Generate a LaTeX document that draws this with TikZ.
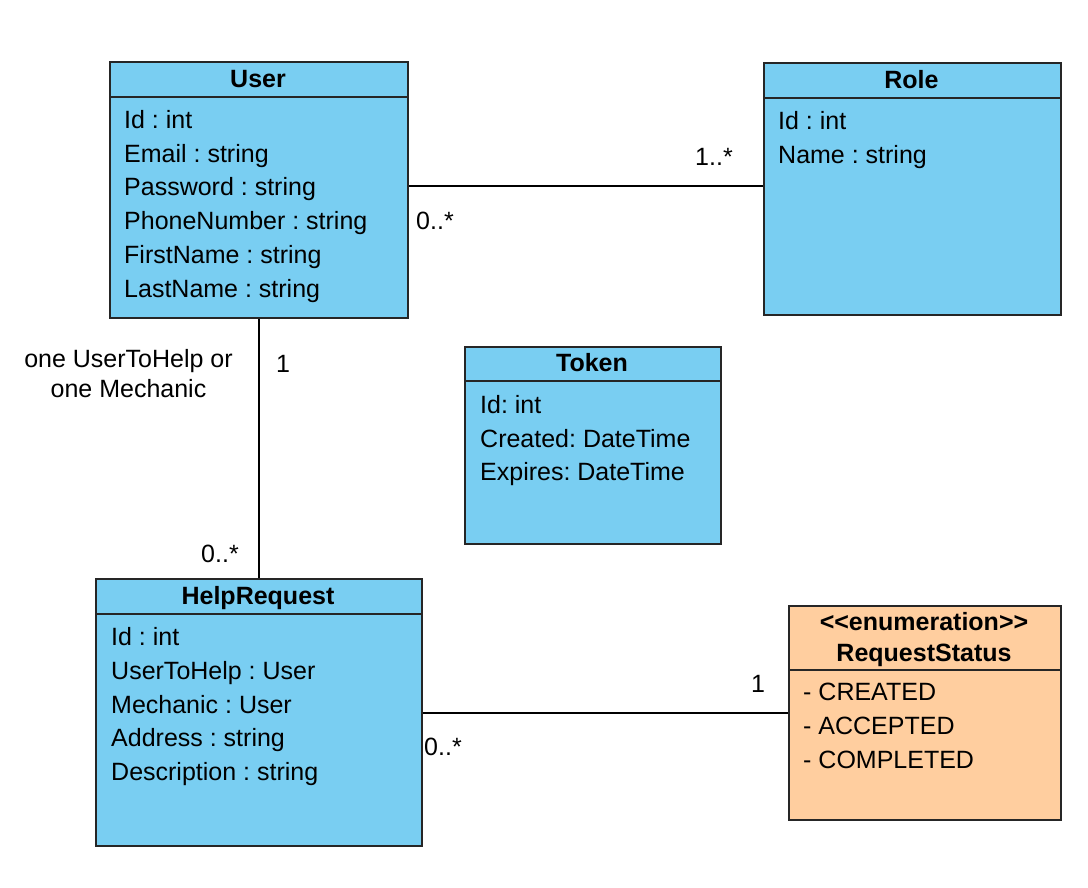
\documentclass[tikz,border=0pt]{standalone}
\usepackage{fontspec}
\setmainfont{Liberation Sans}
\frenchspacing
\definecolor{clsblue}{RGB}{121,206,242}
\definecolor{enumorange}{RGB}{255,206,159}
\tikzset{
  cls/.style={draw=black!85, line width=2pt, fill=clsblue, rectangle, inner sep=0pt, anchor=north west},
  enumcls/.style={cls, fill=enumorange},
  hdr/.style={line width=2pt, draw=black!85},
  title/.style={font=\fontsize{25}{29}\selectfont\bfseries, anchor=base, inner sep=0pt},
  attr/.style={font=\fontsize{25}{29}\selectfont, anchor=base west, inner sep=0pt},
  lbl/.style={font=\fontsize{25}{29}\selectfont, anchor=base, inner sep=0pt},
  assoc/.style={line width=2pt, draw=black}
}
\begin{document}
\begin{tikzpicture}[x=1pt,y=-1pt]
\useasboundingbox (0,0) rectangle (1088,888);

% User
\node[cls, minimum width=298pt, minimum height=256pt] (user) at (109,61) {};
\draw[hdr] (109,97) -- (407,97);
\node[title] (userT) at (258,87.5) {User};
\node[attr] (u1) at (124,128.5) {Id : int};
\node[attr] (u2) at (124,162.2) {Email : string};
\node[attr] (u3) at (124,195.9) {Password : string};
\node[attr] (u4) at (124,229.6) {PhoneNumber : string};
\node[attr] (u5) at (124,263.3) {FirstName : string};
\node[attr] (u6) at (124,297) {LastName : string};

% Role
\node[cls, minimum width=297pt, minimum height=252pt] (role) at (763,62) {};
\draw[hdr] (763,98) -- (1060,98);
\node[title] (roleT) at (911.5,88.5) {Role};
\node[attr] (r1) at (778,129.5) {Id : int};
\node[attr] (r2) at (778,163.2) {Name : string};

% Token
\node[cls, minimum width=256pt, minimum height=197pt] (token) at (464,346) {};
\draw[hdr] (464,381) -- (720,381);
\node[title] (tokenT) at (592,371.5) {Token};
\node[attr] (t1) at (480,413.5) {Id: int};
\node[attr] (t2) at (480,447) {Created: DateTime};
\node[attr] (t3) at (480,480.5) {Expires: DateTime};

% HelpRequest
\node[cls, minimum width=326pt, minimum height=267pt] (hr) at (95,578) {};
\draw[hdr] (95,614) -- (421,614);
\node[title] (hrT) at (258,604.5) {HelpRequest};
\node[attr] (h1) at (111,645.5) {Id : int};
\node[attr] (h2) at (111,679.2) {UserToHelp : User};
\node[attr] (h3) at (111,713) {Mechanic : User};
\node[attr] (h4) at (111,746.8) {Address : string};
\node[attr] (h5) at (111,780.5) {Description : string};

% RequestStatus
\node[enumcls, minimum width=272pt, minimum height=214pt] (rs) at (788,605) {};
\draw[hdr] (788,670) -- (1060,670);
\node[title] (rsT1) at (924,630.5) {<{}<enumeration>{}>};
\node[title] (rsT2) at (924,661.5) {RequestStatus};
\node[attr] (s1) at (803,700.5) {- CREATED};
\node[attr] (s2) at (803,734.5) {- ACCEPTED};
\node[attr] (s3) at (803,768.5) {- COMPLETED};

% Associations
\draw[assoc] ([yshift=4pt]user.east) -- ([yshift=4pt]user.east -| role.west);
\draw[assoc] (user.south) -- (hr.north);
\draw[assoc] ([yshift=-0.5pt]hr.east) -- ([yshift=-0.5pt]hr.east -| rs.west);

% Multiplicities
\node[lbl] (m1) at (714,165.5) {1..*};
\node[lbl] (m2) at (435,229.5) {0..*};
\node[lbl] (m3) at (283,372.5) {1};
\node[lbl] (m4) at (220,562.5) {0..*};
\node[lbl] (m5) at (758,692.5) {1};
\node[lbl] (m6) at (443,755.5) {0..*};
\node[lbl] (note1) at (128.5,367.5) {one UserToHelp or};
\node[lbl] (note2) at (128.5,397.5) {one Mechanic};
\end{tikzpicture}
\end{document}
